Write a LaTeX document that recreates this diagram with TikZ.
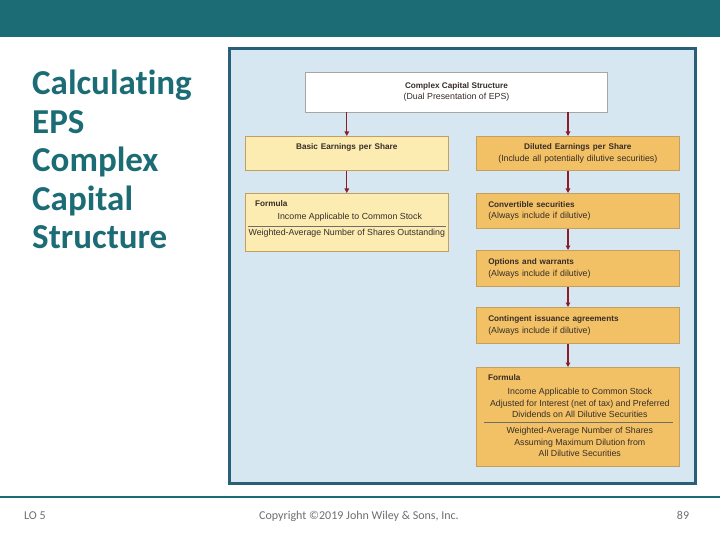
\documentclass[tikz,border=0pt]{standalone}
\usepackage{fontspec}
\setmainfont{Carlito}[Ligatures=NoCommon]
\newfontfamily\figfont{Liberation Sans}
\definecolor{SlideTeal}{RGB}{28,108,118}
\definecolor{FrameBlue}{RGB}{40,96,120}
\definecolor{PanelBlue}{RGB}{214,231,242}
\definecolor{BasicYellow}{RGB}{252,236,178}
\definecolor{DilOrange}{RGB}{242,193,102}
\definecolor{BoxEdge}{RGB}{196,160,96}
\definecolor{ArrowRed}{RGB}{140,28,40}
\definecolor{FootGray}{RGB}{110,110,110}
\definecolor{InkDark}{RGB}{55,45,40}
\usetikzlibrary{arrows.meta, positioning}
\newcommand{\boxhead}[1]{{\fontsize{8.2}{11.7}\selectfont\bfseries #1}}
\tikzset{
  cbox/.style={rectangle, draw=BoxEdge, fill=#1, line width=0.6pt,
               minimum width=203pt, inner xsep=3pt, inner ysep=0pt, text width=197pt,
               font=\figfont\fontsize{8.8}{11.7}\selectfont, text=InkDark, align=center},
  lbox/.style={rectangle, draw=BoxEdge, fill=#1, line width=0.6pt,
               minimum width=203pt, inner xsep=12pt, inner ysep=0pt, text width=179pt,
               font=\figfont\fontsize{8.8}{11.7}\selectfont, text=InkDark, align=left},
  topbox/.style={rectangle, draw=gray!70, fill=white, line width=0.6pt,
                 minimum width=302pt, minimum height=40pt,
                 font=\figfont\fontsize{8.8}{11.7}\selectfont, text=InkDark, align=center},
  ftext/.style={inner sep=0pt, align=center,
                font=\figfont\fontsize{8.8}{11.6}\selectfont, text=InkDark},
  rule/.style={draw=InkDark!70, line width=0.5pt},
  arr/.style={-{Triangle[length=4.5pt, width=4.5pt]}, line width=1.1pt, color=ArrowRed},
  title/.style={anchor=north west, align=left, inner sep=0pt,
                font=\bfseries\fontsize{35}{38.5}\selectfont, text=SlideTeal},
  foot/.style={inner sep=0pt, font=\fontsize{12}{14}\selectfont, text=FootGray},
}
\begin{document}
\begin{tikzpicture}[x=1pt, y=-1pt, node distance=21pt]
    \useasboundingbox (0,0) rectangle (720,540);
    % slide
    \fill[SlideTeal] (0,0) rectangle (720,37);
    \draw[SlideTeal, line width=2.5pt] (0,497) -- (720,497);
    \node[title] (head) at (32,70) {Calculating\\EPS\\Complex\\Capital\\Structure};
    \node[foot, anchor=base west] (lo) at (24,519) {LO 5};
    \node[foot, anchor=base] (copy) at (359,519) {Copyright ©2019 John Wiley \& Sons, Inc.};
    \node[foot, anchor=base] (page) at (683,519) {89};

    % figure panel
    \draw[draw=FrameBlue, fill=PanelBlue, line width=3pt] (229.5,48.5) rectangle (695.5,483.5);
    \coordinate (rcol) at (568,0);

    \node[topbox] (cplx) at (456.5,92)
         {\boxhead{Complex Capital Structure}\\(Dual Presentation of EPS)};

    \node[cbox=BasicYellow, anchor=north west, minimum height=34.4pt] (basic) at (245,136)
         {\boxhead{Basic Earnings per Share}\\\phantom{(}};
    \node[cbox=BasicYellow, minimum height=58.4pt, below=22pt of basic] (lform) {};

    \node[cbox=DilOrange, anchor=north west, minimum height=34.4pt] (dil) at (476,136)
         {\boxhead{Diluted Earnings per Share}\\(Include all potentially dilutive securities)};
    \node[lbox=DilOrange, minimum height=35.4pt, below=22pt of dil] (conv)
         {\boxhead{Convertible securities}\\(Always include if dilutive)};
    \node[lbox=DilOrange, minimum height=36.4pt, below=21pt of conv] (opts)
         {\boxhead{Options and warrants}\\(Always include if dilutive)};
    \node[lbox=DilOrange, minimum height=36.4pt, below=20pt of opts] (cont)
         {\boxhead{Contingent issuance agreements}\\(Always include if dilutive)};
    \node[cbox=DilOrange, minimum height=99.4pt, below=23pt of cont] (dform) {};

    % basic formula
    \node[ftext, anchor=west] (ltag) at ([xshift=10pt, yshift=-11pt]lform.north west) {\boxhead{Formula}};
    \node[ftext] (lnum) at ([xshift=3pt, yshift=-24pt]lform.north) {Income Applicable to Common Stock};
    \node[ftext] (lden) at ([yshift=-40pt]lform.north) {Weighted-Average Number of Shares Outstanding};
    \draw[rule] ([xshift=3pt, yshift=-33pt]lform.north west) -- ([xshift=-3pt, yshift=-33pt]lform.north east);

    % diluted formula
    \node[ftext, anchor=west] (dtag) at ([xshift=12pt, yshift=-11pt]dform.north west) {\boxhead{Formula}};
    \node[ftext] (dnum) at ([xshift=2pt, yshift=-36pt]dform.north)
         {Income Applicable to Common Stock\\Adjusted for Interest (net of tax) and Preferred\\Dividends on All Dilutive Securities};
    \node[ftext] (dden) at ([xshift=2pt, yshift=-75pt]dform.north)
         {Weighted-Average Number of Shares\\Assuming Maximum Dilution from\\All Dilutive Securities};
    \draw[rule] ([xshift=8pt, yshift=-55pt]dform.north west) -- ([xshift=-7pt, yshift=-55pt]dform.north east);

    \draw[arr] (cplx.south -| basic.north) -- (basic.north);
    \draw[arr] (basic) -- (lform);
    \draw[arr] (cplx.south -| rcol) -- (dil.north -| rcol);
    \draw[arr] (dil.south -| rcol) -- (conv.north -| rcol);
    \draw[arr] (conv.south -| rcol) -- (opts.north -| rcol);
    \draw[arr] (opts.south -| rcol) -- (cont.north -| rcol);
    \draw[arr] (cont.south -| rcol) -- (dform.north -| rcol);
\end{tikzpicture}
\end{document}
